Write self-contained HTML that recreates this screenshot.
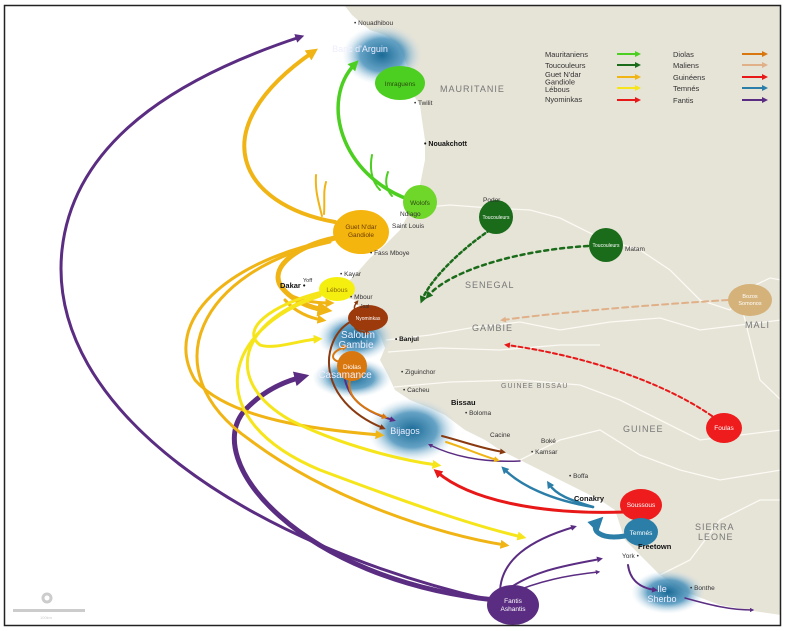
<!DOCTYPE html>
<html><head><meta charset="utf-8"><style>
html,body{margin:0;padding:0;background:#fff}
svg{display:block}
text{font-family:"Liberation Sans",sans-serif}
.pl{font-size:6.5px;fill:#333}
.pb{font-size:7.5px;fill:#111;font-weight:bold}
.ct{font-size:9px;fill:#777;letter-spacing:1px}
.lg{font-size:7.5px;fill:#333}
.nd{font-size:6.5px;fill:#fff;text-anchor:middle}
</style></head><body>
<svg width="785" height="631" viewBox="0 0 785 631" xmlns="http://www.w3.org/2000/svg">
<defs>
<radialGradient id="bl"><stop offset="0" stop-color="#1a6a96"/><stop offset="0.55" stop-color="#4a92bb" stop-opacity="0.85"/><stop offset="1" stop-color="#cfe3ee" stop-opacity="0"/></radialGradient>
<marker id="mp" viewBox="0 0 10 10" refX="5" refY="5" markerWidth="3" markerHeight="3" orient="auto"><path d="M0,0L10,5L0,10z" fill="#5b2d82"/></marker>
<marker id="mo" viewBox="0 0 10 10" refX="5" refY="5" markerWidth="3" markerHeight="3" orient="auto"><path d="M0,0L10,5L0,10z" fill="#f0b415"/></marker>
<marker id="my" viewBox="0 0 10 10" refX="5" refY="5" markerWidth="3" markerHeight="3" orient="auto"><path d="M0,0L10,5L0,10z" fill="#f5e51a"/></marker>
<marker id="mg" viewBox="0 0 10 10" refX="5" refY="5" markerWidth="3" markerHeight="3" orient="auto"><path d="M0,0L10,5L0,10z" fill="#4ccf20"/></marker>
<marker id="md" viewBox="0 0 10 10" refX="5" refY="5" markerWidth="3" markerHeight="3" orient="auto"><path d="M0,0L10,5L0,10z" fill="#1a6b1a"/></marker>
<marker id="mt" viewBox="0 0 10 10" refX="5" refY="5" markerWidth="3" markerHeight="3" orient="auto"><path d="M0,0L10,5L0,10z" fill="#e0b088"/></marker>
<marker id="mr" viewBox="0 0 10 10" refX="5" refY="5" markerWidth="3" markerHeight="3" orient="auto"><path d="M0,0L10,5L0,10z" fill="#e81818"/></marker>
<marker id="mb" viewBox="0 0 10 10" refX="5" refY="5" markerWidth="3" markerHeight="3" orient="auto"><path d="M0,0L10,5L0,10z" fill="#8a3a10"/></marker>
<marker id="mc" viewBox="0 0 10 10" refX="5" refY="5" markerWidth="3" markerHeight="3" orient="auto"><path d="M0,0L10,5L0,10z" fill="#d9770f"/></marker>
<marker id="mu" viewBox="0 0 10 10" refX="5" refY="5" markerWidth="3" markerHeight="3" orient="auto"><path d="M0,0L10,5L0,10z" fill="#2b7ea8"/></marker>
</defs>
<rect x="0" y="0" width="785" height="631" fill="#fff"/>
<path d="M345,6 L781,6 L781,615 L760,612 L720,605 L680,590 L660,575 L640,555 L625,540 L620,525 L615,510 L600,500 L580,490 L560,480 L540,470 L520,460 L500,450 L485,440 L465,430 L445,415 L430,408 L410,400 L395,390 L388,375 L380,360 L385,348 L380,335 L368,320 L355,300 L340,296 L332,290 L345,285 L355,275 L370,258 L385,245 L400,230 L408,215 L415,200 L420,185 L425,160 L425,140 L422,120 L420,105 L410,90 L410,75 L405,60 L398,45 L385,35 L370,30 L360,22 L352,15 Z" fill="#e6e3d7"/>
<g fill="none" stroke="#fbfaf4" stroke-width="1.3">
<path d="M415,208 L450,205 L490,208 L530,210 L560,218 L600,238 L640,250 L670,270 L700,300 L730,310 L745,290 L770,278 L781,280"/>
<path d="M386,340 L430,335 L470,328 L520,322 L560,330 L610,322 L660,318 L700,330 L781,320"/>
<path d="M388,352 L440,348 L500,350 L560,345 L600,345"/>
<path d="M394,387 L450,382 L520,380 L580,385 L620,400 L660,420 L700,440 L781,430"/>
<path d="M520,460 L560,440 L600,430 L640,455 L680,470 L720,480 L781,470"/>
<path d="M660,575 L690,560 L720,520 L760,500 L781,500"/>
<path d="M740,300 L750,340 L760,380 L781,400"/>
</g>
<ellipse cx="382" cy="55" rx="40" ry="30" fill="url(#bl)"/>
<ellipse cx="355" cy="337" rx="38" ry="24" fill="url(#bl)"/>
<ellipse cx="352" cy="378" rx="40" ry="20" fill="url(#bl)"/>
<ellipse cx="412" cy="430" rx="45" ry="32" fill="url(#bl)"/>
<ellipse cx="668" cy="592" rx="37" ry="22" fill="url(#bl)"/>
<g fill="none" stroke-linecap="round">
<path d="M490,600 C250,545 45,410 62,250 C75,130 200,70 300,37" stroke="#5b2d82" stroke-width="3" marker-end="url(#mp)"/>
<path d="M495,600 C300,580 200,460 245,410 C262,392 282,382 302,377" stroke="#5b2d82" stroke-width="5" marker-end="url(#mp)"/>
<path d="M500,593 C500,560 530,540 574,527" stroke="#5b2d82" stroke-width="2" marker-end="url(#mp)"/>
<path d="M502,594 C530,570 570,565 600,559" stroke="#5b2d82" stroke-width="2" marker-end="url(#mp)"/>
<path d="M504,596 C540,580 570,575 598,572" stroke="#5b2d82" stroke-width="1.5" marker-end="url(#mp)"/>
<path d="M628,565 C630,580 640,588 655,590" stroke="#5b2d82" stroke-width="2" marker-end="url(#mp)"/>
<path d="M685,598 C710,605 730,610 752,610" stroke="#5b2d82" stroke-width="1.5" marker-end="url(#mp)"/>
<path d="M520,461 C480,463 450,455 430,445" stroke="#5b2d82" stroke-width="1.5" marker-end="url(#mp)"/>
<path d="M345,380 C350,400 365,412 393,420" stroke="#5b2d82" stroke-width="2" marker-end="url(#mp)"/>
<path d="M335,222 C240,205 200,130 313,52" stroke="#f0b415" stroke-width="4" marker-end="url(#mo)"/>
<path d="M322,216 C318,200 315,190 316,175" stroke="#f0b415" stroke-width="2"/>
<path d="M324,214 C325,200 323,192 326,182" stroke="#f0b415" stroke-width="2"/>
<path d="M335,238 C300,245 270,265 280,285 C290,300 310,308 325,310" stroke="#f0b415" stroke-width="5" marker-end="url(#mo)"/>
<path d="M332,240 C230,260 160,320 195,380 C230,420 320,430 380,435" stroke="#f0b415" stroke-width="3" marker-end="url(#mo)"/>
<path d="M330,242 C200,270 150,370 250,440 C330,500 440,535 505,545" stroke="#f0b415" stroke-width="3" marker-end="url(#mo)"/>
<path d="M290,295 C300,300 312,303 330,303" stroke="#f0b415" stroke-width="3" marker-end="url(#mo)"/>
<path d="M285,300 C295,312 310,318 322,320" stroke="#f0b415" stroke-width="3" marker-end="url(#mo)"/>
<path d="M446,442 C465,448 480,455 497,460" stroke="#f0b415" stroke-width="2" marker-end="url(#mo)"/>
<path d="M322,292 C270,305 240,330 260,345 C275,350 300,340 318,339" stroke="#f5e51a" stroke-width="3" marker-end="url(#my)"/>
<path d="M322,294 C240,320 220,380 290,420 C340,445 400,460 437,465" stroke="#f5e51a" stroke-width="3" marker-end="url(#my)"/>
<path d="M320,296 C220,330 200,420 320,470 C400,500 470,525 522,537" stroke="#f5e51a" stroke-width="3" marker-end="url(#my)"/>
<path d="M410,200 C340,175 320,100 355,64" stroke="#4ccf20" stroke-width="3.5" marker-end="url(#mg)"/>
<path d="M380,190 C370,180 370,165 372,155" stroke="#4ccf20" stroke-width="2"/>
<path d="M392,196 C385,188 385,180 388,172" stroke="#4ccf20" stroke-width="2"/>
<path d="M490,230 C460,250 430,280 422,300" stroke="#1a6b1a" stroke-width="2.5" stroke-dasharray="3,3" marker-end="url(#md)"/>
<path d="M588,246 C520,250 450,270 428,296" stroke="#1a6b1a" stroke-width="2.5" stroke-dasharray="4,4" marker-end="url(#md)"/>
<path d="M728,300 C650,305 560,312 503,320" stroke="#e0b088" stroke-width="2" stroke-dasharray="6,4" marker-end="url(#mt)"/>
<path d="M712,416 C660,380 580,355 507,345" stroke="#e81818" stroke-width="2" stroke-dasharray="4,3" marker-end="url(#mr)"/>
<path d="M350,322 C320,340 315,400 383,428" stroke="#8a3a10" stroke-width="2" marker-end="url(#mb)"/>
<path d="M358,322 C355,325 350,330 368,333" stroke="#8a3a10" stroke-width="2" marker-end="url(#mb)"/>
<path d="M360,313 C355,312 352,308 357,302" stroke="#8a3a10" stroke-width="1.5" marker-end="url(#mb)"/>
<path d="M442,436 C465,442 480,448 503,452" stroke="#8a3a10" stroke-width="2" marker-end="url(#mb)"/>
<path d="M340,362 C330,360 330,352 345,347" stroke="#d9770f" stroke-width="2" marker-end="url(#mc)"/>
<path d="M350,380 C345,400 370,412 385,417" stroke="#d9770f" stroke-width="2" marker-end="url(#mc)"/>
<path d="M625,512 C540,515 470,500 437,472" stroke="#e81818" stroke-width="3" marker-end="url(#mr)"/>
<path d="M593,507 C550,500 520,485 504,469" stroke="#2b7ea8" stroke-width="2.5" marker-end="url(#mu)"/>
<path d="M593,507 C570,500 556,495 549,484" stroke="#2b7ea8" stroke-width="2.5" marker-end="url(#mu)"/>
<path d="M625,536 C600,540 590,530 598,522" stroke="#2b7ea8" stroke-width="5" marker-end="url(#mu)"/>
</g>
<ellipse cx="400" cy="83" rx="25" ry="17" fill="#4ccf20"/><text x="400" y="86" class="nd" style="fill:#2a4a10">Imraguens</text>
<circle cx="420" cy="202" r="17" fill="#6fd62a"/><text x="420" y="205" class="nd" style="fill:#2a4a10">Wolofs</text>
<circle cx="496" cy="217" r="17" fill="#1a6b1a"/><text x="496" y="219" class="nd" style="font-size:5px">Toucouleurs</text>
<circle cx="606" cy="245" r="17" fill="#1a6b1a"/><text x="606" y="247" class="nd" style="font-size:5px">Toucouleurs</text>
<ellipse cx="361" cy="232" rx="28" ry="22" fill="#f5b50f"/><text x="361" y="229" class="nd" style="fill:#6a3c00">Guet N'dar</text><text x="361" y="237" class="nd" style="fill:#6a3c00">Gandiole</text>
<ellipse cx="337" cy="289" rx="18" ry="12" fill="#f5ef10"/><text x="337" y="292" class="nd" style="fill:#8a6a00">Lébous</text>
<ellipse cx="368" cy="318" rx="20" ry="13" fill="#9c3a0c"/><text x="368" y="320" class="nd" style="font-size:5px">Nyominkas</text>
<circle cx="352" cy="366" r="15" fill="#d9770f"/><text x="352" y="369" class="nd">Diolas</text>
<ellipse cx="750" cy="300" rx="22" ry="16" fill="#d4b27a"/><text x="750" y="298" class="nd" style="font-size:5.5px">Bozos</text><text x="750" y="305" class="nd" style="font-size:5.5px">Somonos</text>
<ellipse cx="724" cy="428" rx="18" ry="15" fill="#ee1c1c"/><text x="724" y="430" class="nd">Foulas</text>
<ellipse cx="641" cy="505" rx="21" ry="16" fill="#ee1c1c"/><text x="641" y="507" class="nd">Soussous</text>
<ellipse cx="641" cy="532" rx="17" ry="14" fill="#2b7ea8"/><text x="641" y="535" class="nd">Temnés</text>
<ellipse cx="513" cy="605" rx="26" ry="20" fill="#5b2d82"/><text x="513" y="603" class="nd">Fantis</text><text x="513" y="611" class="nd">Ashantis</text>
<text x="360" y="52" class="nd" style="font-size:9px;fill:#eef">Banc d'Arguin</text>
<text x="358" y="338" class="nd" style="font-size:10px;fill:#eef">Saloum</text>
<text x="356" y="348" class="nd" style="font-size:10px;fill:#eef">Gambie</text>
<text x="345" y="378" class="nd" style="font-size:10px;fill:#eef">Casamance</text>
<text x="405" y="434" class="nd" style="font-size:9px;fill:#eef">Bijagos</text>
<text x="662" y="592" class="nd" style="font-size:9px;fill:#eef">Ile</text>
<text x="662" y="602" class="nd" style="font-size:9px;fill:#eef">Sherbo</text>
<text x="440" y="92" class="ct">MAURITANIE</text>
<text x="465" y="288" class="ct">SENEGAL</text>
<text x="472" y="331" class="ct">GAMBIE</text>
<text x="501" y="388" class="ct" style="font-size:7px">GUINEE BISSAU</text>
<text x="623" y="432" class="ct">GUINEE</text>
<text x="745" y="328" class="ct">MALI</text>
<text x="695" y="530" class="ct">SIERRA</text><text x="698" y="540" class="ct">LEONE</text>
<g class="pl">
<text x="354" y="25">• Nouadhibou</text>
<text x="414" y="105">• Twilit</text>
<text x="400" y="216">Ndiago</text>
<text x="392" y="228">Saint Louis</text>
<text x="370" y="255">• Fass Mboye</text>
<text x="340" y="276">• Kayar</text>
<text x="303" y="282" style="font-size:5.5px">Yoff</text>
<text x="350" y="299">• Mbour</text>
<text x="360" y="308" style="font-size:5px">Joal</text>
<text x="483" y="202">Podor</text>
<text x="625" y="251">Matam</text>
<text x="401" y="374">• Ziguinchor</text>
<text x="403" y="392">• Cacheu</text>
<text x="465" y="415">• Boloma</text>
<text x="490" y="437">Cacine</text>
<text x="541" y="443">Boké</text>
<text x="531" y="454">• Kamsar</text>
<text x="569" y="478">• Boffa</text>
<text x="622" y="558">York •</text>
<text x="690" y="590">• Bonthe</text>
</g>
<text x="280" y="288" class="pb">Dakar •</text>
<text x="395" y="341" class="pb" style="font-size:6.5px">• Banjul</text>
<text x="451" y="405" class="pb">Bissau</text>
<text x="574" y="501" class="pb">Conakry</text>
<text x="424" y="146" class="pb" style="font-size:7px">• Nouakchott</text>
<text x="638" y="549" class="pb">Freetown</text>
<g class="lg">
<text x="545" y="57">Mauritaniens</text>
<text x="545" y="68">Toucouleurs</text>
<text x="545" y="77">Guet N'dar</text>
<text x="545" y="84.5">Gandiole</text>
<text x="545" y="92">Lébous</text>
<text x="545" y="102">Nyominkas</text>
<text x="673" y="57">Diolas</text>
<text x="673" y="68">Maliens</text>
<text x="673" y="80">Guinéens</text>
<text x="673" y="91">Temnés</text>
<text x="673" y="103">Fantis</text>
</g>
<g stroke-width="2" fill="none">
<path d="M617,54 H638" stroke="#4ccf20" marker-end="url(#mg)"/>
<path d="M617,65 H638" stroke="#1a6b1a" marker-end="url(#md)"/>
<path d="M617,77 H638" stroke="#f0b415" marker-end="url(#mo)"/>
<path d="M617,88 H638" stroke="#f5e51a" marker-end="url(#my)"/>
<path d="M617,100 H638" stroke="#e81818" marker-end="url(#mr)"/>
<path d="M742,54 H765" stroke="#d9770f" marker-end="url(#mc)"/>
<path d="M742,65 H765" stroke="#e0b088" marker-end="url(#mt)"/>
<path d="M742,77 H765" stroke="#e81818" marker-end="url(#mr)"/>
<path d="M742,88 H765" stroke="#2b7ea8" marker-end="url(#mu)"/>
<path d="M742,100 H765" stroke="#5b2d82" marker-end="url(#mp)"/>
</g>
<circle cx="47" cy="598" r="4" fill="none" stroke="#ccc" stroke-width="3"/>
<rect x="13" y="609" width="72" height="3" fill="#ccc"/>
<text x="40" y="619" style="font-size:4px;fill:#ccc">100km</text>
<rect x="4.5" y="5.5" width="776" height="620" fill="none" stroke="#222" stroke-width="1.5"/>
</svg>
</body></html>
